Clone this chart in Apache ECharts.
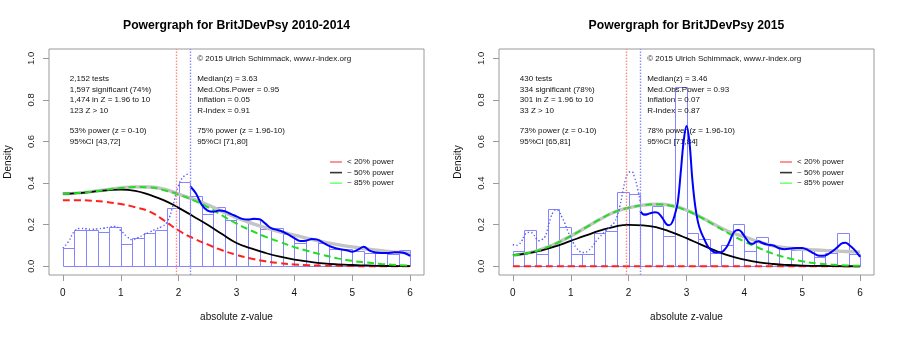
<!DOCTYPE html>
<html>
<head>
<meta charset="utf-8">
<script src="https://cdn.jsdelivr.net/npm/echarts@6/dist/echarts.min.js"></script>
<style>
  html, body { margin: 0; padding: 0; background: #ffffff; }
  #chart { width: 900px; height: 337px; }
</style>
</head>
<body>
<div id="chart"></div>
<script>
// ---------- data ----------
const panelTitles = ['Powergraph for BritJDevPsy 2010-2014', 'Powergraph for BritJDevPsy 2015'];
const xTicks = [0, 1, 2, 3, 4, 5, 6];
const yTicks = [0, 0.2, 0.4, 0.6, 0.8, 1.0];
const legendNames = ['< 20% power', '~ 50% power', '~ 85% power'];
const copyrightText = '\u00A9 2015 Ulrich Schimmack, www.r-index.org';

// histogram bins (bin start, width 0.2)
const binStarts = [0.0, 0.2, 0.4, 0.6, 0.8, 1.0, 1.2, 1.4, 1.6, 1.8, 2.0, 2.2, 2.4, 2.6, 2.8,
                   3.0, 3.2, 3.4, 3.6, 3.8, 4.0, 4.2, 4.4, 4.6, 4.8, 5.0, 5.2, 5.4, 5.6, 5.8];
const binWidth = 0.2;
const histA = [0.087, 0.174, 0.173, 0.164, 0.188, 0.106, 0.138, 0.159, 0.173, 0.282, 0.405, 0.339, 0.253, 0.284, 0.223,
               0.225, 0.226, 0.180, 0.183, 0.154, 0.114, 0.130, 0.110, 0.083, 0.082, 0.074, 0.066, 0.066, 0.060, 0.080];
const histB = [0.072, 0.173, 0.058, 0.275, 0.188, 0.058, 0.058, 0.162, 0.170, 0.359, 0.347, 0.258, 0.292, 0.144, 0.861,
               0.161, 0.130, 0.063, 0.101, 0.202, 0.074, 0.143, 0.098, 0.088, 0.079, 0.085, 0.045, 0.064, 0.159, 0.058];

// model curves on a common z grid
const zGrid = [0, 0.25, 0.5, 0.75, 1, 1.25, 1.5, 1.75, 2, 2.25, 2.5, 2.75, 3, 3.25, 3.5, 3.75,
               4, 4.25, 4.5, 4.75, 5, 5.25, 5.5, 5.75, 6];
const lowA   = [0.318, 0.318, 0.315, 0.309, 0.299, 0.284, 0.263, 0.220, 0.172, 0.135, 0.105, 0.077, 0.055,
                0.037, 0.024, 0.015, 0.009, 0.005, 0.003, 0.002, 0.001, 0, 0, 0, 0];
const midA   = [0.349, 0.352, 0.358, 0.365, 0.369, 0.363, 0.343, 0.317, 0.281, 0.241, 0.200, 0.155, 0.112,
                0.086, 0.064, 0.046, 0.032, 0.022, 0.014, 0.009, 0.006, 0.004, 0.002, 0.001, 0.0005];
const highA  = [0.349, 0.352, 0.359, 0.368, 0.376, 0.381, 0.379, 0.366, 0.345, 0.318, 0.285, 0.245, 0.205,
                0.172, 0.142, 0.117, 0.092, 0.072, 0.054, 0.038, 0.026, 0.018, 0.011, 0.006, 0.003];
const fitA   = [0.349, 0.352, 0.359, 0.368, 0.377, 0.382, 0.381, 0.371, 0.347, 0.323, 0.296, 0.264, 0.234,
                0.208, 0.186, 0.166, 0.150, 0.133, 0.117, 0.104, 0.093, 0.083, 0.075, 0.068, 0.063];
const lowB   = [0, 0, 0, 0, 0, 0, 0, 0, 0, 0, 0, 0, 0, 0, 0, 0, 0, 0, 0, 0, 0, 0, 0, 0, 0];
const midB   = [0.053, 0.062, 0.077, 0.097, 0.122, 0.147, 0.171, 0.190, 0.199, 0.197, 0.186, 0.163, 0.135,
                0.104, 0.075, 0.050, 0.032, 0.019, 0.011, 0.006, 0.003, 0.002, 0.001, 0, 0];
const highB  = [0.053, 0.063, 0.082, 0.110, 0.145, 0.185, 0.225, 0.260, 0.281, 0.294, 0.298, 0.290, 0.268,
                0.235, 0.195, 0.155, 0.119, 0.088, 0.060, 0.040, 0.024, 0.014, 0.008, 0.004, 0.002];
const fitB   = [0.053, 0.063, 0.082, 0.110, 0.145, 0.185, 0.225, 0.260, 0.281, 0.294, 0.298, 0.292, 0.270,
                0.236, 0.198, 0.165, 0.142, 0.118, 0.098, 0.088, 0.082, 0.078, 0.075, 0.071, 0.068];

// kernel density of non-significant z (dotted) and significant z (solid)
const densLowZA = [0, 0.1, 0.2, 0.3, 0.4, 0.5, 0.6, 0.7, 0.8, 0.9, 1.0, 1.1, 1.2, 1.3, 1.4, 1.5, 1.6, 1.7,
                   1.8, 1.9, 2.0, 2.1, 2.2];
const densLowA  = [0.087, 0.120, 0.168, 0.182, 0.180, 0.178, 0.180, 0.183, 0.188, 0.192, 0.172, 0.145, 0.128,
                   0.138, 0.152, 0.165, 0.178, 0.190, 0.212, 0.290, 0.390, 0.435, 0.445];
const densHighZA = [2.2, 2.3, 2.4, 2.5, 2.6, 2.7, 2.8, 2.9, 3.0, 3.1, 3.2, 3.3, 3.4, 3.5, 3.6, 3.7, 3.8, 3.9,
                    4.0, 4.1, 4.2, 4.3, 4.4, 4.5, 4.6, 4.7, 4.8, 4.9, 5.0, 5.1, 5.2, 5.3, 5.4, 5.5, 5.6, 5.7,
                    5.8, 5.9, 6.0];
const densHighA  = [0.385, 0.350, 0.295, 0.268, 0.262, 0.268, 0.265, 0.252, 0.240, 0.228, 0.225, 0.228, 0.226,
                    0.205, 0.183, 0.175, 0.166, 0.152, 0.135, 0.122, 0.123, 0.131, 0.128, 0.113, 0.098, 0.088,
                    0.082, 0.077, 0.070, 0.080, 0.094, 0.075, 0.066, 0.064, 0.064, 0.066, 0.068, 0.064, 0.050];
const densLowZB = [0, 0.05, 0.1, 0.15, 0.2, 0.25, 0.3, 0.35, 0.4, 0.45, 0.5, 0.55, 0.6, 0.65, 0.7, 0.75,
                   0.8, 0.85, 0.9, 0.95, 1.0, 1.05, 1.1, 1.15, 1.2, 1.25, 1.3, 1.35, 1.4, 1.45, 1.5, 1.55,
                   1.6, 1.65, 1.7, 1.75, 1.8, 1.85, 1.9, 1.95, 2.0, 2.05, 2.1, 2.15, 2.2];
const densLowB  = [0.105, 0.100, 0.105, 0.120, 0.148, 0.162, 0.163, 0.155, 0.135, 0.123, 0.128, 0.140, 0.180,
                   0.230, 0.262, 0.272, 0.262, 0.235, 0.205, 0.168, 0.140, 0.110, 0.088, 0.073, 0.066, 0.067,
                   0.075, 0.088, 0.105, 0.125, 0.140, 0.155, 0.170, 0.183, 0.195, 0.210, 0.240, 0.290, 0.360,
                   0.420, 0.450, 0.455, 0.430, 0.380, 0.310];
const densHighZB = [2.2, 2.25, 2.3, 2.35, 2.4, 2.45, 2.5, 2.55, 2.6, 2.65, 2.7, 2.75, 2.8, 2.85, 2.9, 2.95,
                    3.0, 3.05, 3.1, 3.15, 3.2, 3.25, 3.3, 3.35, 3.4, 3.5, 3.6, 3.7, 3.8, 3.85, 3.9, 3.95, 4.0,
                    4.1, 4.15, 4.2, 4.25, 4.3, 4.4, 4.5, 4.6, 4.7, 4.8, 4.9, 5.0, 5.1, 5.2, 5.3, 5.4, 5.5,
                    5.6, 5.7, 5.75, 5.8, 5.9, 6.0];
const densHighB  = [0.265, 0.250, 0.248, 0.253, 0.257, 0.260, 0.258, 0.245, 0.225, 0.203, 0.197, 0.210, 0.250,
                    0.310, 0.450, 0.600, 0.675, 0.600, 0.420, 0.290, 0.210, 0.165, 0.135, 0.105, 0.085, 0.066,
                    0.068, 0.095, 0.155, 0.172, 0.175, 0.165, 0.145, 0.110, 0.108, 0.118, 0.120, 0.113, 0.104,
                    0.100, 0.087, 0.082, 0.085, 0.088, 0.088, 0.078, 0.062, 0.050, 0.052, 0.068, 0.090, 0.112,
                    0.113, 0.105, 0.080, 0.045];

// significance criterion and median-power cutoff (vertical reference lines)
const critZ = 1.96;
const cutZ = 2.2;

// summary text
const statsLeftA  = ['2,152 tests', '1,597 significant (74%)', '1,474 in Z = 1.96 to 10', '123 Z > 10',
                     '53% power (z = 0-10)', '95%CI [43,72]'];
const statsRightA = ['Median(z) = 3.63', 'Med.Obs.Power = 0.95', 'Inflation = 0.05', 'R-Index = 0.91',
                     '75% power (z = 1.96-10)', '95%CI [71,80]'];
const statsLeftB  = ['430 tests', '334 significant (78%)', '301 in Z = 1.96 to 10', '33 Z > 10',
                     '73% power (z = 0-10)', '95%CI [65,81]'];
const statsRightB = ['Median(z) = 3.46', 'Med.Obs.Power = 0.93', 'Inflation = 0.07', 'R-Index = 0.87',
                     '78% power (z = 1.96-10)', '95%CI [71,84]'];

// ---------- layout / style ----------
const FONT = '"Liberation Sans", Arial, Helvetica, sans-serif';
const textRowsY = [0.9, 0.85, 0.8, 0.75, 0.65, 0.6];
const textLeftX = 0.12, textRightX = 2.32, copyrightY = 1.0;
const gridLefts = [49, 499];

const pair = (xs, ys) => xs.map((x, i) => [x, ys[i]]);

function curve(k, name, xs, ys, lineStyle, extra) {
  return Object.assign({
    type: 'line', name: name, xAxisIndex: k, yAxisIndex: k,
    data: pair(xs, ys), smooth: 0.5, symbol: 'none', silent: true, lineStyle: lineStyle
  }, extra || {});
}

function panelSeries(k, hist, low, mid, high, fit, dLoZ, dLo, dHiZ, dHi, statsL, statsR) {
  const list = [];
  // histogram
  list.push({
    type: 'custom', xAxisIndex: k, yAxisIndex: k,
    silent: true,
    data: binStarts.map((b, i) => [b, b + binWidth, hist[i]]),
    renderItem: function (params, api) {
      const p0 = api.coord([api.value(0), api.value(2)]);
      const p1 = api.coord([api.value(1), 0]);
      return {
        type: 'rect',
        shape: { x: Math.round(p0[0]) + 0.5, y: Math.round(p0[1]) + 0.5,
                 width: Math.round(p1[0]) - Math.round(p0[0]), height: Math.round(p1[1]) - Math.round(p0[1]) },
        style: { fill: 'rgba(0,0,0,0)', stroke: '#8585ff', lineWidth: 1 }
      };
    }
  });
  // fitted density (grey) with reference lines
  list.push(curve(k, 'fit', zGrid, fit, { color: '#c4c4c4', width: 3.4 }, {
    markLine: {
      silent: true, symbol: 'none', label: { show: false },
      data: [
        { xAxis: critZ, lineStyle: { color: '#ff8c8c', type: [1.5, 1.5], width: 1.4 } },
        { xAxis: cutZ, lineStyle: { color: '#8c8cff', type: [1.5, 1.5], width: 1.4 } }
      ]
    }
  }));
  list.push(curve(k, legendNames[0], zGrid, low, { color: '#ff2020', width: 2, type: [7, 4] }));
  list.push(curve(k, legendNames[1], zGrid, mid, { color: '#000000', width: 1.8 }));
  list.push(curve(k, legendNames[2], zGrid, high, { color: '#22dd22', width: 2, type: [7, 4] }));
  list.push(curve(k, 'dens-nonsig', dLoZ, dLo, { color: '#5c5cff', width: 1.4, type: [1.4, 2.2] }));
  list.push(curve(k, 'dens-sig', dHiZ, dHi, { color: '#0000ff', width: 2 }, { smooth: 0.35 }));
  // summary text
  const notes = [[textRightX, copyrightY, copyrightText]];
  statsL.forEach((t, i) => notes.push([textLeftX, textRowsY[i], t]));
  statsR.forEach((t, i) => notes.push([textRightX, textRowsY[i], t]));
  list.push({
    type: 'custom', xAxisIndex: k, yAxisIndex: k, silent: true, clip: false,
    data: notes.map(n => [n[0], n[1]]),
    renderItem: function (params, api) {
      const p = api.coord([api.value(0), api.value(1)]);
      return {
        type: 'text', x: p[0], y: p[1],
        style: { text: notes[params.dataIndex][2], fill: '#111', fontSize: 8, fontFamily: FONT,
                 align: 'left', verticalAlign: 'middle' }
      };
    }
  });
  return list;
}

function xAxisOf(k) {
  return {
    gridIndex: k, type: 'value', min: -0.24, max: 6.24, position: 'bottom',
    axisLine: { show: false, onZero: false }, splitLine: { show: false },
    axisTick: { show: true, inside: false, length: 6, customValues: xTicks, lineStyle: { color: '#9a9a9a' } },
    axisLabel: { customValues: xTicks, margin: 13, fontSize: 10, color: '#111', fontFamily: FONT },
    name: 'absolute z-value', nameLocation: 'middle', nameGap: 37,
    nameTextStyle: { fontSize: 10, color: '#111', fontFamily: FONT }
  };
}
function yAxisOf(k) {
  return {
    gridIndex: k, type: 'value', min: -0.042, max: 1.045, position: 'left',
    axisLine: { show: false, onZero: false }, splitLine: { show: false },
    axisTick: { show: true, inside: false, length: 6, customValues: yTicks, lineStyle: { color: '#9a9a9a' } },
    axisLabel: { customValues: yTicks, rotate: 90, margin: 13, fontSize: 9.5, color: '#222', fontFamily: FONT,
                 formatter: v => v.toFixed(1) },
    name: 'Density', nameLocation: 'middle', nameGap: 36, nameRotate: 90,
    nameTextStyle: { fontSize: 10, color: '#111', fontFamily: FONT }
  };
}
function legendOf(k) {
  return {
    left: gridLefts[k] + 281, top: 157, orient: 'vertical', selectedMode: false,
    icon: 'rect', itemWidth: 12, itemHeight: 1.6, itemGap: 0.6, padding: 0,
    textStyle: { fontSize: 8, color: '#111', fontFamily: FONT, lineHeight: 10 },
    data: [
      { name: legendNames[0], itemStyle: { color: '#ff7a7a' } },
      { name: legendNames[1], itemStyle: { color: '#333333' } },
      { name: legendNames[2], itemStyle: { color: '#7aff7a' } }
    ]
  };
}

const chart = echarts.init(document.getElementById('chart'), null, { renderer: 'canvas' });
chart.setOption({
  animation: false,
  backgroundColor: '#ffffff',
  textStyle: { fontFamily: FONT },
  grid: gridLefts.map(l => ({
    left: l, top: 49, width: 375, height: 226, show: true, borderColor: '#9a9a9a', borderWidth: 1,
    backgroundColor: 'transparent', containLabel: false, outerBoundsMode: 'none'
  })),
  xAxis: [xAxisOf(0), xAxisOf(1)],
  yAxis: [yAxisOf(0), yAxisOf(1)],
  legend: [legendOf(0), legendOf(1)],
  graphic: panelTitles.map((t, k) => ({
    type: 'text', x: gridLefts[k] + 187.5, y: 25.5, silent: true,
    style: { text: t, fill: '#000', fontSize: 12.2, fontWeight: 'bold', fontFamily: FONT,
             align: 'center', verticalAlign: 'middle' }
  })),
  series: [].concat(
    panelSeries(0, histA, lowA, midA, highA, fitA, densLowZA, densLowA, densHighZA, densHighA, statsLeftA, statsRightA),
    panelSeries(1, histB, lowB, midB, highB, fitB, densLowZB, densLowB, densHighZB, densHighB, statsLeftB, statsRightB)
  )
});
</script>
</body>
</html>
